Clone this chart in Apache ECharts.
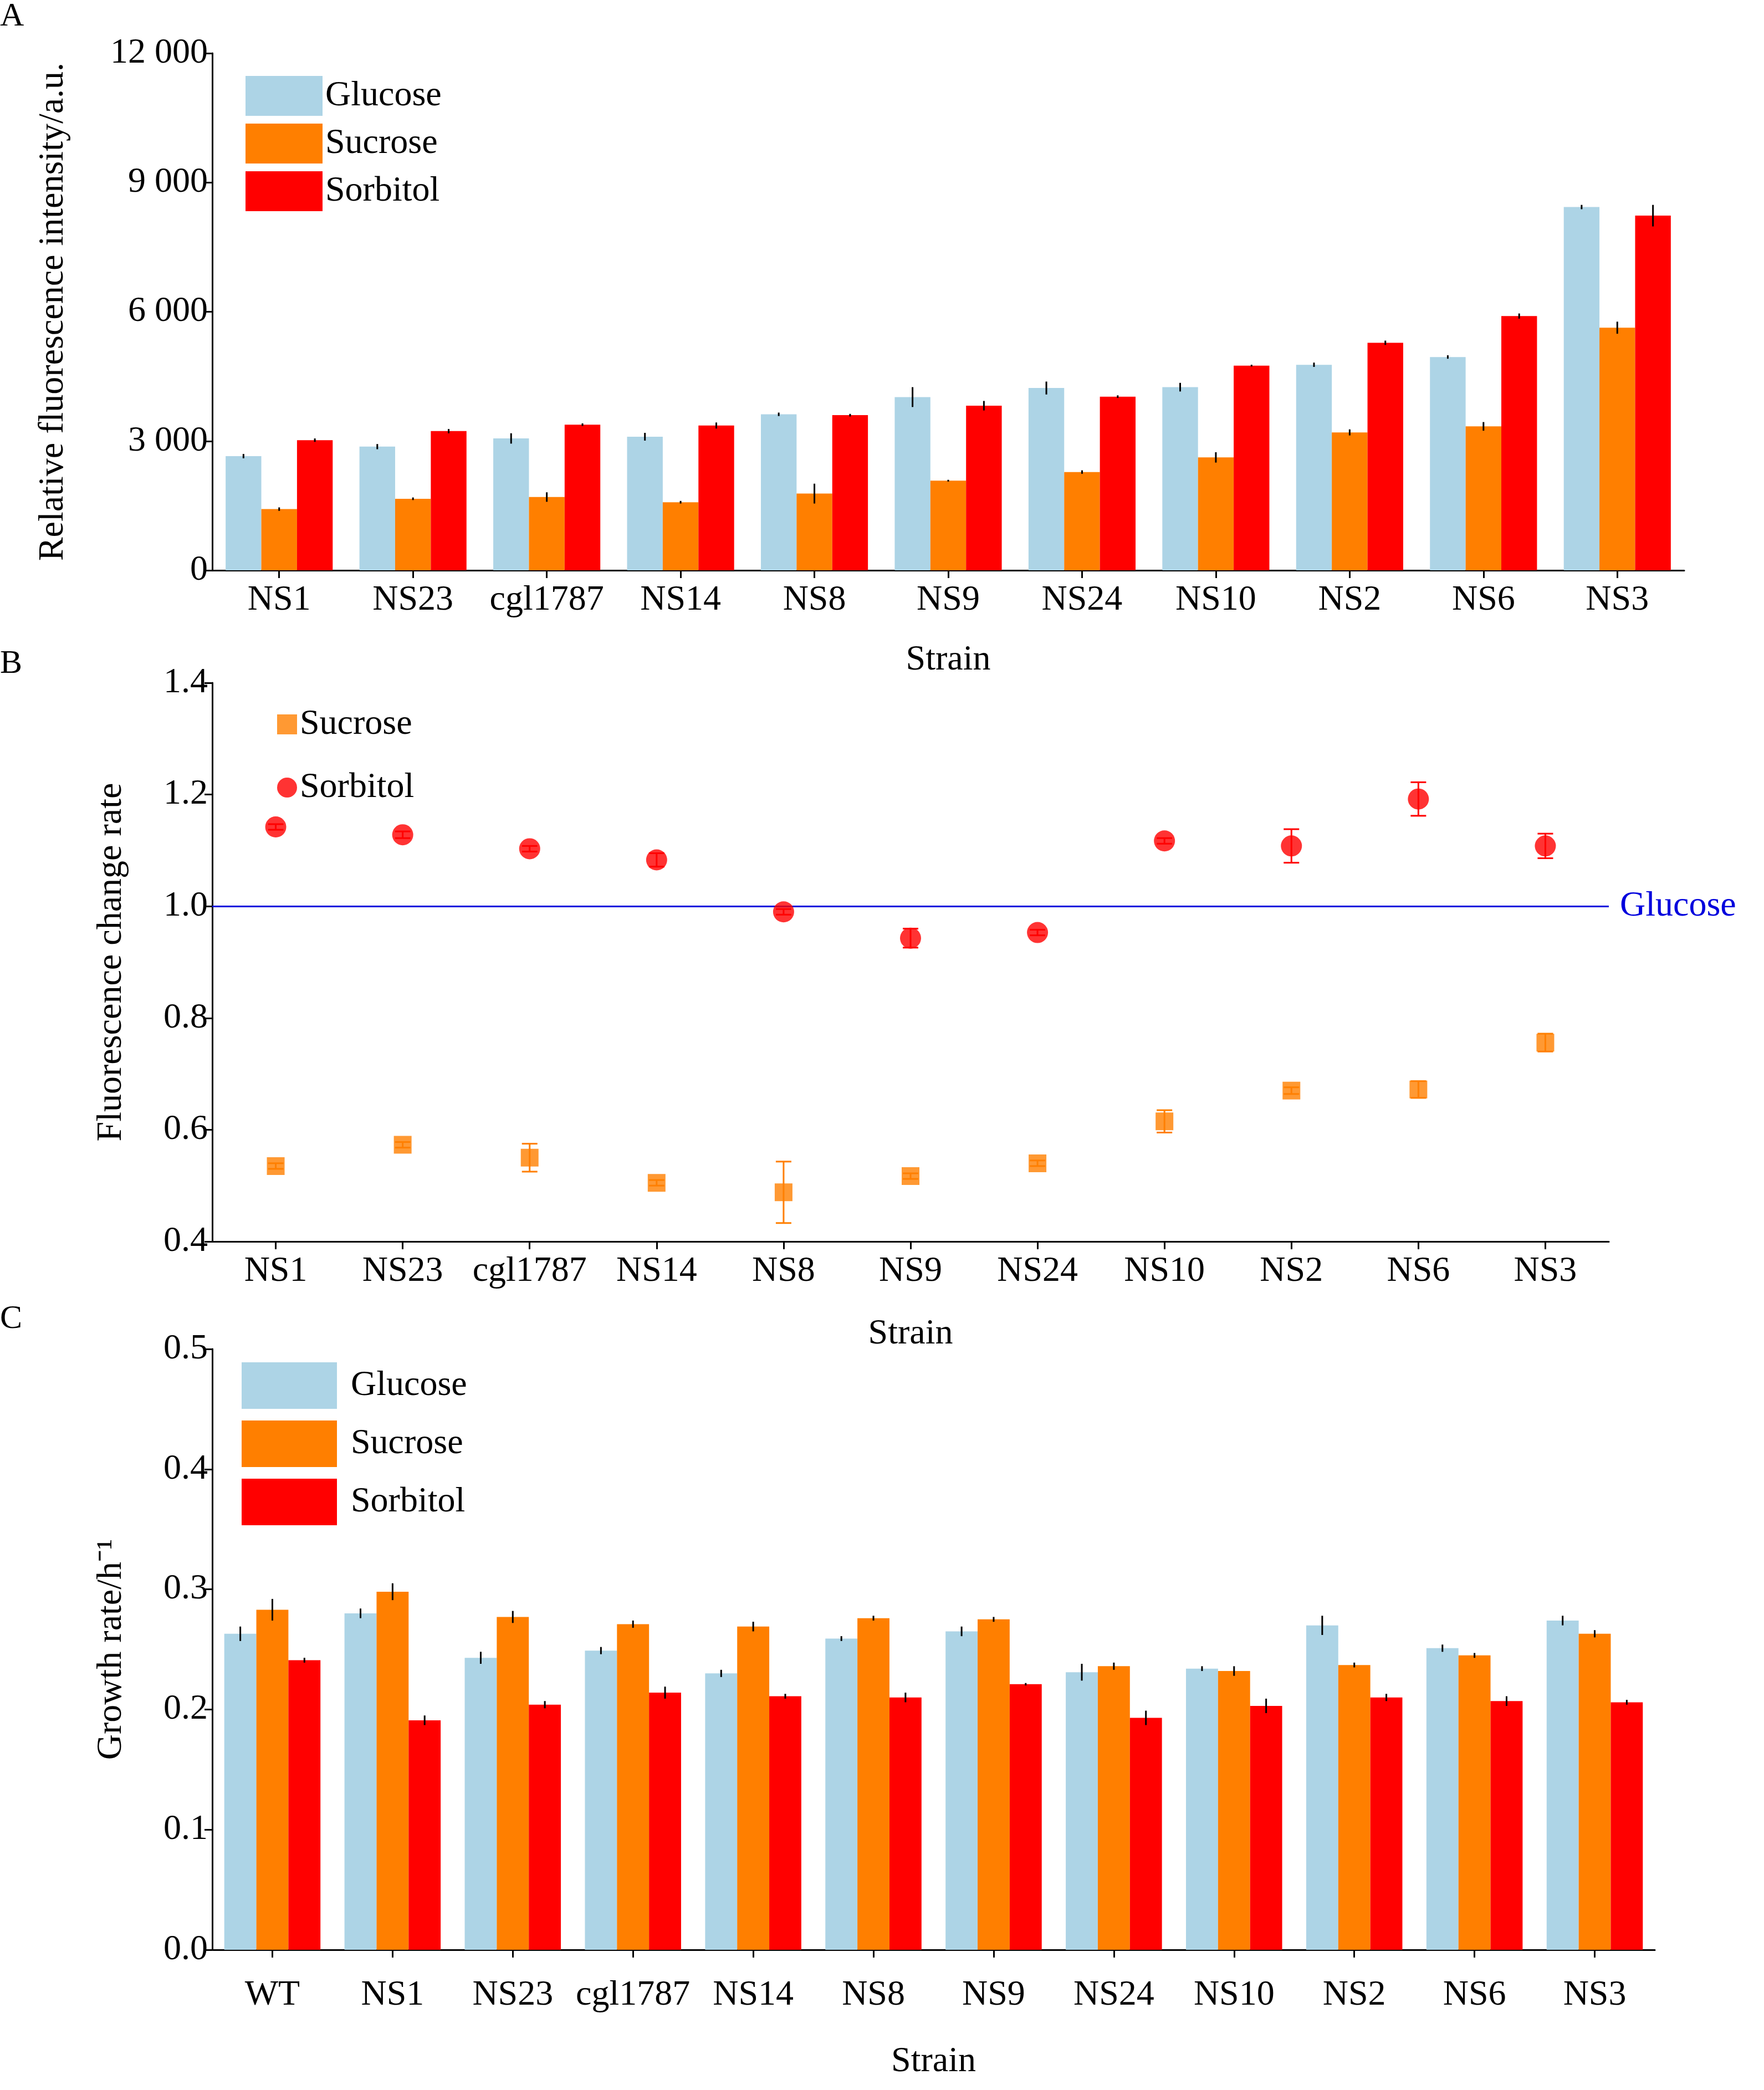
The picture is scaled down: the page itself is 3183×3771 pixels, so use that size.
<!DOCTYPE html>
<html>
<head>
<meta charset="utf-8">
<script src="https://cdn.jsdelivr.net/npm/echarts@6/dist/echarts.min.js"></script>
<style>html,body{margin:0;background:#fff}#chart{width:3183px;height:3771px}</style>
</head>
<body>
<div id="chart"></div>
<script>
'use strict';

// Panel A data
const strainsA = ['NS1', 'NS23', 'cgl1787', 'NS14', 'NS8', 'NS9', 'NS24', 'NS10', 'NS2', 'NS6', 'NS3'];
const fluoGlucose = [2650, 2870, 3060, 3100, 3620, 4020, 4230, 4250, 4770, 4950, 8430];
const fluoGlucoseErr = [50, 60, 120, 90, 40, 230, 150, 100, 50, 40, 50];
const fluoSucrose = [1420, 1660, 1700, 1580, 1780, 2080, 2280, 2620, 3200, 3340, 5630];
const fluoSucroseErr = [40, 30, 110, 30, 230, 20, 40, 120, 70, 100, 140];
const fluoSorbitol = [3020, 3230, 3380, 3360, 3600, 3820, 4030, 4750, 5280, 5900, 8230];
const fluoSorbitolErr = [40, 50, 30, 70, 30, 110, 30, 20, 50, 60, 250];

// Panel B data
const rateSorbitol = [1.142, 1.128, 1.103, 1.083, 0.990, 0.943, 0.953, 1.117, 1.108, 1.192, 1.108];
const rateSorbitolErr = [0.005, 0.006, 0.005, 0.012, 0.005, 0.017, 0.005, 0.005, 0.03, 0.03, 0.022];
const rateSucrose = [0.535, 0.573, 0.550, 0.505, 0.488, 0.517, 0.540, 0.615, 0.670, 0.672, 0.756];
const rateSucroseErr = [0.005, 0.005, 0.025, 0.005, 0.055, 0.005, 0.005, 0.02, 0.006, 0.015, 0.016];

// Panel C data
const strainsC = ['WT', 'NS1', 'NS23', 'cgl1787', 'NS14', 'NS8', 'NS9', 'NS24', 'NS10', 'NS2', 'NS6', 'NS3'];
const growGlucose = [0.263, 0.280, 0.243, 0.249, 0.230, 0.259, 0.265, 0.231, 0.234, 0.270, 0.251, 0.274];
const growGlucoseErr = [0.006, 0.004, 0.005, 0.003, 0.003, 0.002, 0.004, 0.007, 0.002, 0.008, 0.003, 0.004];
const growSucrose = [0.283, 0.298, 0.277, 0.271, 0.269, 0.276, 0.275, 0.236, 0.232, 0.237, 0.245, 0.263];
const growSucroseErr = [0.009, 0.007, 0.005, 0.003, 0.004, 0.002, 0.002, 0.003, 0.004, 0.002, 0.002, 0.003];
const growSorbitol = [0.241, 0.191, 0.204, 0.214, 0.211, 0.210, 0.221, 0.193, 0.203, 0.210, 0.207, 0.206];
const growSorbitolErr = [0.002, 0.004, 0.003, 0.005, 0.002, 0.004, 0.001, 0.006, 0.006, 0.003, 0.004, 0.002];

const FONT = 'Liberation Serif';
const FS = 64;
const C_GLU = '#add4e6';
const C_SUC = '#ff7f00';
const C_SOR = '#ff0000';

const axisLine = { show: true, lineStyle: { color: '#000', width: 3 } };
const axisTick = { show: true, length: 14, lineStyle: { color: '#000', width: 3 } };
const axisLabel = { color: '#000', fontFamily: FONT, fontSize: FS };
const nameStyle = { color: '#000', fontFamily: FONT, fontSize: FS };

// error bars for grouped bars / points; slot is bar index within group (or null for centred)
function errSeries(idx, values, errs, slot, nSlots, color, cap) {
    return {
        type: 'custom', xAxisIndex: idx, yAxisIndex: idx, z: 10,
        data: values.map((v, i) => [i, v, errs[i]]),
        renderItem: function (params, api) {
            const i = api.value(0);
            const band = api.size([1, 0])[0];
            const bw = band * 0.8 / nSlots;
            const dx = slot === null ? 0 : (slot - (nSlots - 1) / 2) * bw;
            const top = api.coord([i, api.value(1) + api.value(2)]);
            const bot = api.coord([i, api.value(1) - api.value(2)]);
            const x = top[0] + dx;
            const style = { stroke: color, lineWidth: 3 };
            const children = [{ type: 'line', shape: { x1: x, y1: top[1], x2: x, y2: bot[1] }, style: style }];
            if (cap) {
                children.push({ type: 'line', shape: { x1: x - cap, y1: top[1], x2: x + cap, y2: top[1] }, style: style });
                children.push({ type: 'line', shape: { x1: x - cap, y1: bot[1], x2: x + cap, y2: bot[1] }, style: style });
            }
            return { type: 'group', children: children };
        }
    };
}

function barSeries(idx, name, values, color) {
    return {
        name: name, type: 'bar', xAxisIndex: idx, yAxisIndex: idx, data: values,
        itemStyle: { color: color }, barGap: '0%', barCategoryGap: '20%'
    };
}

const chart = echarts.init(document.getElementById('chart'));
chart.setOption({
    animation: false,
    backgroundColor: '#fff',
    textStyle: { fontFamily: FONT },
    graphic: [
        { type: 'text', left: 0, top: 0, style: { text: 'A', font: '60px "Liberation Serif"', fill: '#000' } },
        { type: 'text', left: 0, top: 1168, style: { text: 'B', font: '60px "Liberation Serif"', fill: '#000' } },
        { type: 'text', left: 0, top: 2350, style: { text: 'C', font: '60px "Liberation Serif"', fill: '#000' } }
    ],
    legend: [
        { left: 438, top: 132, orient: 'vertical', itemWidth: 139, itemHeight: 72, itemGap: 14,
          data: ['Glucose', 'Sucrose', 'Sorbitol'].map(n => ({ name: n, icon: 'rect' })),
          textStyle: { fontFamily: FONT, fontSize: FS, color: '#000' } },
        { left: 495, top: 1270, orient: 'vertical', itemWidth: 36, itemHeight: 36, itemGap: 50,
          data: [{ name: 'Sucrose ', icon: 'rect' }, { name: 'Sorbitol ', icon: 'circle' }],
          textStyle: { fontFamily: FONT, fontSize: FS, color: '#000' } },
        { left: 431, top: 2453, orient: 'vertical', itemWidth: 172, itemHeight: 84, itemGap: 21,
          data: ['Glucose  ', 'Sucrose  ', 'Sorbitol  '].map(n => ({ name: n, icon: 'rect' })),
          textStyle: { fontFamily: FONT, fontSize: FS, color: '#000', padding: [0, 0, 0, 20] } }
    ],
    grid: [
        { left: 383, right: 3183 - 3039, top: 96, height: 933 },
        { left: 383, right: 3183 - 2903, top: 1232, height: 1008 },
        { left: 383, right: 3183 - 2986, top: 2434, height: 1084 }
    ],
    xAxis: [
        { type: 'category', gridIndex: 0, data: strainsA, axisLine: axisLine, axisTick: Object.assign({ alignWithLabel: true }, axisTick),
          axisLabel: Object.assign({ interval: 0, margin: 22 }, axisLabel), name: 'Strain', nameLocation: 'middle', nameGap: 130, nameTextStyle: nameStyle },
        { type: 'category', gridIndex: 1, data: strainsA, axisLine: axisLine, axisTick: Object.assign({ alignWithLabel: true }, axisTick),
          axisLabel: Object.assign({ interval: 0, margin: 22 }, axisLabel), name: 'Strain', nameLocation: 'middle', nameGap: 135, nameTextStyle: nameStyle },
        { type: 'category', gridIndex: 2, data: strainsC, axisLine: axisLine, axisTick: Object.assign({ alignWithLabel: true }, axisTick),
          axisLabel: Object.assign({ interval: 0, margin: 50 }, axisLabel), name: 'Strain', nameLocation: 'middle', nameGap: 170, nameTextStyle: nameStyle }
    ],
    yAxis: [
        { type: 'value', gridIndex: 0, min: 0, max: 12000, interval: 3000, splitLine: { show: false },
          axisLine: axisLine, axisTick: axisTick,
          axisLabel: Object.assign({ formatter: v => v >= 1000 ? String(v).replace(/(\d)(\d{3})$/, '$1 $2') : String(v) }, axisLabel),
          name: 'Relative fluorescence intensity/a.u.', nameLocation: 'middle', nameGap: 255, nameTextStyle: nameStyle },
        { type: 'value', gridIndex: 1, min: 0.4, max: 1.4, interval: 0.2, splitLine: { show: false },
          axisLine: axisLine, axisTick: axisTick,
          axisLabel: Object.assign({ formatter: v => v.toFixed(1) }, axisLabel),
          name: 'Fluorescence change rate', nameLocation: 'middle', nameGap: 150, nameTextStyle: nameStyle },
        { type: 'value', gridIndex: 2, min: 0, max: 0.5, interval: 0.1, splitLine: { show: false },
          axisLine: axisLine, axisTick: axisTick,
          axisLabel: Object.assign({ formatter: v => v.toFixed(1) }, axisLabel),
          name: 'Growth rate/h⁻¹', nameLocation: 'middle', nameGap: 150, nameTextStyle: nameStyle }
    ],
    series: [
        barSeries(0, 'Glucose', fluoGlucose, C_GLU),
        barSeries(0, 'Sucrose', fluoSucrose, C_SUC),
        barSeries(0, 'Sorbitol', fluoSorbitol, C_SOR),
        errSeries(0, fluoGlucose, fluoGlucoseErr, 0, 3, '#000', 0),
        errSeries(0, fluoSucrose, fluoSucroseErr, 1, 3, '#000', 0),
        errSeries(0, fluoSorbitol, fluoSorbitolErr, 2, 3, '#000', 0),

        { name: 'Sucrose ', type: 'scatter', xAxisIndex: 1, yAxisIndex: 1, symbol: 'rect', symbolSize: 32,
          data: rateSucrose, itemStyle: { color: C_SUC }, z: 11,
          markLine: { silent: true, symbol: 'none', data: [{ yAxis: 1.0 }],
            lineStyle: { color: '#0000dd', width: 3, type: 'solid' },
            label: { position: 'end', formatter: 'Glucose', color: '#0000dd', fontFamily: FONT, fontSize: FS, distance: 20 } } },
        { name: 'Sorbitol ', type: 'scatter', xAxisIndex: 1, yAxisIndex: 1, symbol: 'circle', symbolSize: 38,
          data: rateSorbitol, itemStyle: { color: C_SOR }, z: 11 },
        errSeries(1, rateSucrose, rateSucroseErr, null, 1, C_SUC, 14),
        errSeries(1, rateSorbitol, rateSorbitolErr, null, 1, C_SOR, 14),

        barSeries(2, 'Glucose  ', growGlucose, C_GLU),
        barSeries(2, 'Sucrose  ', growSucrose, C_SUC),
        barSeries(2, 'Sorbitol  ', growSorbitol, C_SOR),
        errSeries(2, growGlucose, growGlucoseErr, 0, 3, '#000', 0),
        errSeries(2, growSucrose, growSucroseErr, 1, 3, '#000', 0),
        errSeries(2, growSorbitol, growSorbitolErr, 2, 3, '#000', 0)
    ]
});
</script>
</body>
</html>
